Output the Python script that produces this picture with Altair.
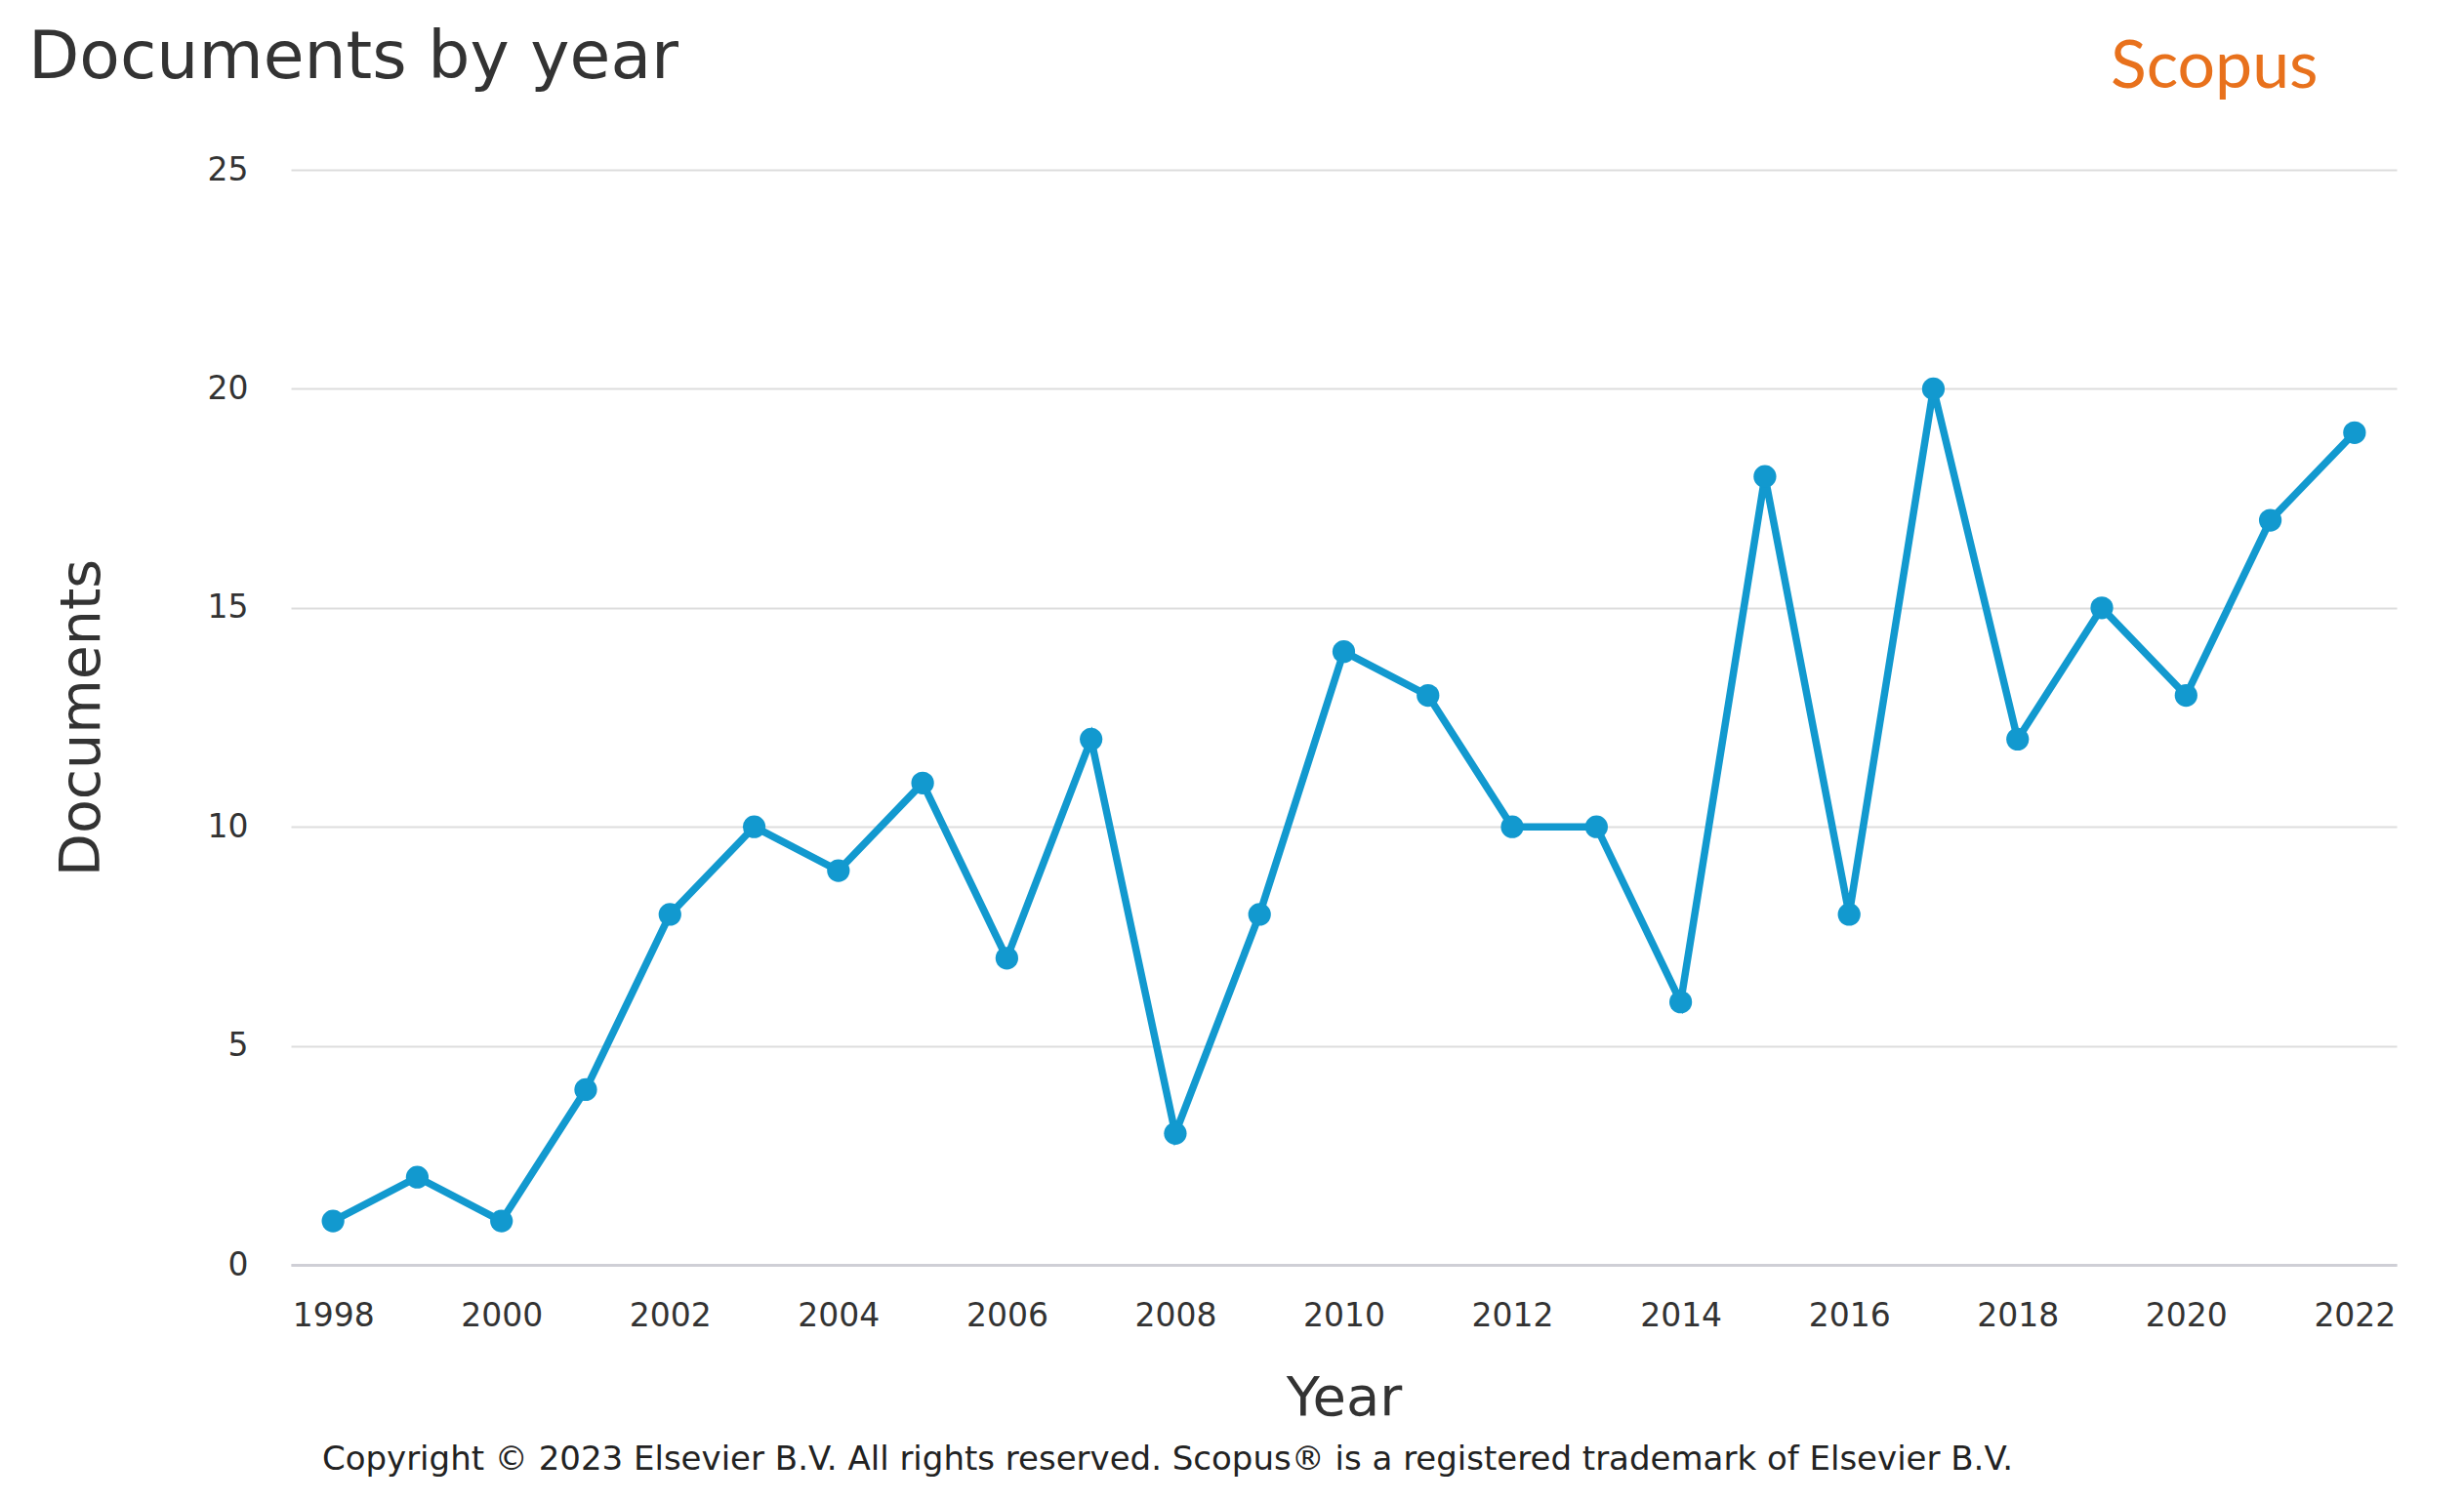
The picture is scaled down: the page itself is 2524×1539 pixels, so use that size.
import altair as alt
import pandas as pd

years = list(range(1998, 2023))
documents = [1, 2, 1, 4, 8, 10, 9, 11, 7, 12, 3, 8, 14, 13, 10, 10, 6, 18, 8, 20, 12, 15, 13, 17, 19]
x_ticks = list(range(1998, 2023, 2))
y_ticks = [0, 5, 10, 15, 20, 25]

title_text = "Documents by year"
brand_text = "Scopus"
footer_text = "Copyright © 2023 Elsevier B.V. All rights reserved. Scopus® is a registered trademark of Elsevier B.V."

df = pd.DataFrame({"Year": years, "Documents": documents})

W, H = 2157, 1122
BLUE = "#1299CF"
FONT = "DejaVu Sans"

x_enc = alt.X(
    "Year:Q",
    scale=alt.Scale(domain=[1997.5, 2022.5], nice=False, zero=False),
    axis=alt.Axis(
        values=x_ticks, format="d", title="Year", grid=False, ticks=False,
        domain=True, domainColor="#cfcfd6", domainWidth=3,
        labelFont=FONT, labelFontSize=33, labelColor="#333333", labelPadding=36,
        titleFont=FONT, titleFontSize=56, titleFontWeight="normal",
        titleColor="#333333", titlePadding=40,
    ),
)
y_enc = alt.Y(
    "Documents:Q",
    scale=alt.Scale(domain=[0, 25], nice=False),
    axis=alt.Axis(
        values=y_ticks, title="Documents", grid=True, gridColor="#dddddd",
        gridWidth=2, ticks=False, domain=False,
        labelFont=FONT, labelFontSize=33, labelColor="#333333", labelPadding=44,
        titleFont=FONT, titleFontSize=57, titleFontWeight="normal",
        titleColor="#333333", titlePadding=99,
    ),
)

base = alt.Chart(df).encode(x=x_enc, y=y_enc)
line = base.mark_line(color=BLUE, strokeWidth=7.5)
points = base.mark_circle(color=BLUE, size=540, opacity=1)

title_df = pd.DataFrame({"t": [title_text]})
title_mark = alt.Chart(title_df).mark_text(
    font=FONT, fontSize=68, color="#333333", align="left", baseline="alphabetic"
).encode(text="t:N", x=alt.value(-269), y=alt.value(-94))

brand_df = pd.DataFrame({"t": [brand_text]})
brand_mark = alt.Chart(brand_df).mark_text(
    font="Lato", fontSize=68, color="#E8711C", align="left", baseline="alphabetic"
).encode(text="t:N", x=alt.value(1864), y=alt.value(-84))

footer_df = pd.DataFrame({"t": [footer_text]})
footer_mark = alt.Chart(footer_df).mark_text(
    font=FONT, fontSize=34, color="#222222", align="center", baseline="alphabetic"
).encode(text="t:N", x=alt.value(898), y=alt.value(1332))

chart = alt.layer(line, points, title_mark, brand_mark, footer_mark).properties(
    width=W, height=H,
    background="white",
    autosize=alt.AutoSizeParams(type="none"),
    padding={"left": 290, "top": 166, "right": 60, "bottom": 230},
).configure_view(
    strokeWidth=0, strokeOpacity=0
).configure_axisX(grid=False)

chart.save("out.html", embed_options={"renderer": "svg", "actions": False})
